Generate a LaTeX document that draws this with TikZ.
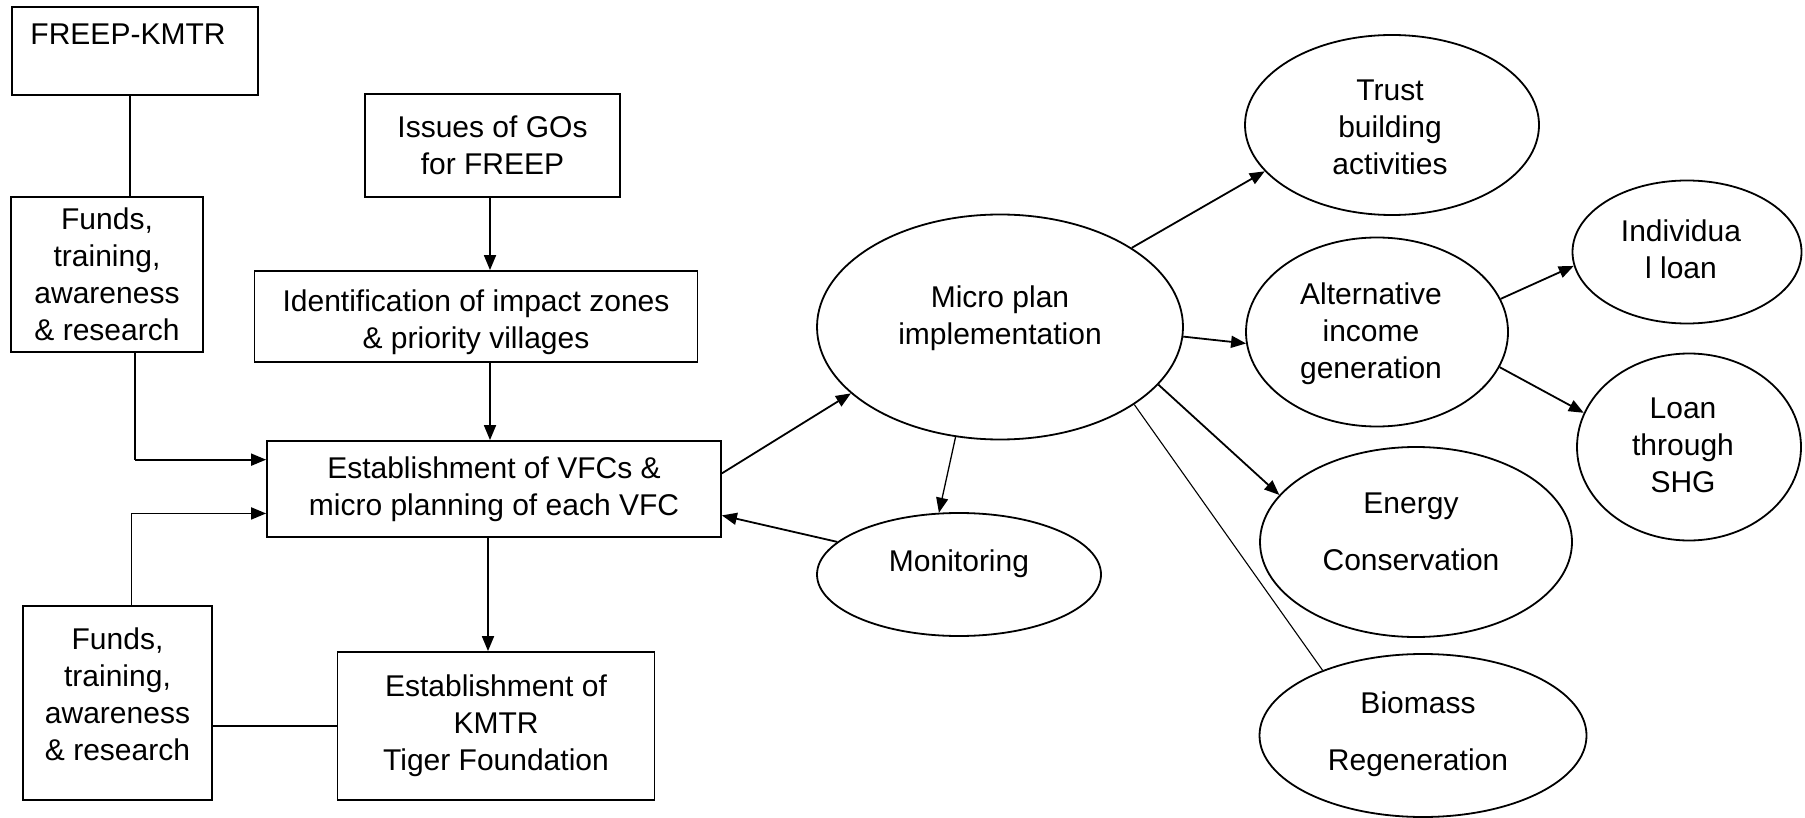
\documentclass[tikz,border=0pt]{standalone}
\usepackage{fontspec}
\setmainfont{Liberation Sans}
\usetikzlibrary{arrows.meta,calc,shapes.geometric}
\begin{document}
\tikzset{
  every node/.style={font=\fontsize{30}{37}\selectfont, align=center, inner sep=0pt},
  box/.style={draw, line width=1.8pt, rectangle},
  oval/.style={draw, line width=1.8pt, ellipse},
  arr/.style={line width=1.8pt, -{Triangle[length=15pt,width=12pt]}},
  thinarr/.style={line width=1.3pt, -{Triangle[length=15pt,width=12pt]}},
  plain/.style={line width=1.1pt},
}
\begin{tikzpicture}[x=1pt,y=-1pt]
\useasboundingbox (0,0) rectangle (1805,818);
% boxes
\node[box, minimum width=246pt, minimum height=88pt] (freep) at (135,51) {};
\node (freeptxt) at (128,34) {FREEP-KMTR};
\node[box, minimum width=192pt, minimum height=155pt] (funds1) at (107,274.5) {Funds,\\training,\\awareness\\\& research};
\node[box, minimum width=255pt, minimum height=103pt] (issues) at (492.5,145.5) {Issues of GOs\\for FREEP};
\node[box, minimum width=443pt, minimum height=91pt] (ident) at (476,316.5) {};
\node (identtxt) at (476,322) {Identification of impact zones\\\& priority villages};
\node[box, minimum width=454pt, minimum height=96pt] (vfc) at (494,489) {Establishment of VFCs \&\\micro planning of each VFC};
\node[box, minimum width=189pt, minimum height=194pt] (funds2) at (117.5,703) {};
\node (funds2txt) at (117.5,694) {Funds,\\training,\\awareness\\\& research};
\node[box, minimum width=317pt, minimum height=148pt] (kmtr) at (496,726) {Establishment of\\KMTR\\Tiger Foundation};
% ellipses
\node[oval, minimum width=366pt, minimum height=225pt] (micro) at (1000,327) {};
\node[oval, minimum width=284pt, minimum height=123pt] (monitor) at (959,574.5) {};
\node[oval, minimum width=294pt, minimum height=180pt] (trust) at (1392,125) {};
\node[oval, minimum width=262pt, minimum height=189pt] (alt) at (1377,332) {};
\node[oval, minimum width=229pt, minimum height=143pt] (indiv) at (1687,252) {};
\node[oval, minimum width=224pt, minimum height=187pt] (shg) at (1689,447) {};
\node[oval, minimum width=312pt, minimum height=190pt] (energy) at (1416,542) {};
\node[oval, minimum width=327pt, minimum height=163pt] (biomass) at (1423,735.5) {};
% ellipse texts
\node (microtxt) at (1000,318) {Micro plan\\implementation};
\node (monitortxt) at (959,564) {Monitoring};
\node (trusttxt) at (1390,127) {Trust\\building\\activities};
\node (alttxt) at (1371,334) {Alternative\\income\\generation};
\node (indivtxt) at (1681,249) {Individua\\l loan};
\node (shgtxt) at (1683,445.5) {Loan\\through\\SHG};
\node (energytxt) at (1411,532) {Energy\\[20pt]Conservation};
\node (biomasstxt) at (1418,734) {Biomass\\[20pt]Regeneration};
% helper coordinates on the VFC box
\coordinate (a1) at ($(vfc.north west)!0.2!(vfc.south west)$);
\coordinate (a2) at ($(vfc.north west)!0.75!(vfc.south west)$);
\coordinate (a3) at ($(vfc.north east)!0.34!(vfc.south east)$);
\coordinate (a4) at ($(vfc.north east)!0.77!(vfc.south east)$);
% left connectors
\draw[plain] ([xshift=-5pt]freep.south) -- ([xshift=-5pt]freep.south |- funds1.north);
\draw[plain] (freep.south |- funds1.south) -- (freep.south |- a1);
\draw[arr] (freep.south |- a1) -- (a1);
\draw[arr] ([xshift=14pt]funds2.north) |- (a2);
\draw[arr] ([xshift=-2.5pt]issues.south) -- ([xshift=-2.5pt]issues.south |- ident.north);
\draw[arr] ([xshift=14pt]ident.south) -- ([xshift=14pt]ident.south |- vfc.north);
\draw[arr] ([xshift=-6pt]vfc.south) -- ([xshift=-6pt]vfc.south |- kmtr.north);
\draw[line width=1.8pt] (kmtr.west) -- (kmtr.west -| funds2.east);
% right connectors
\draw[arr] (a3) -- (micro.204);
\draw[arr] (monitor.165) -- (a4);
\draw[thinarr] (micro.-112) -- (monitor.108);
\draw[arr] (micro.31) -- (trust.200);
\draw[arr] (micro.-3) -- (alt.185);
\draw[arr] (micro.-20) -- (energy.161);
\draw[plain] (micro.-30) -- (biomass.147);
\draw[arr] (alt.15) -- (indiv.187);
\draw[arr] (alt.-16) -- (shg.162);
\end{tikzpicture}
\end{document}
